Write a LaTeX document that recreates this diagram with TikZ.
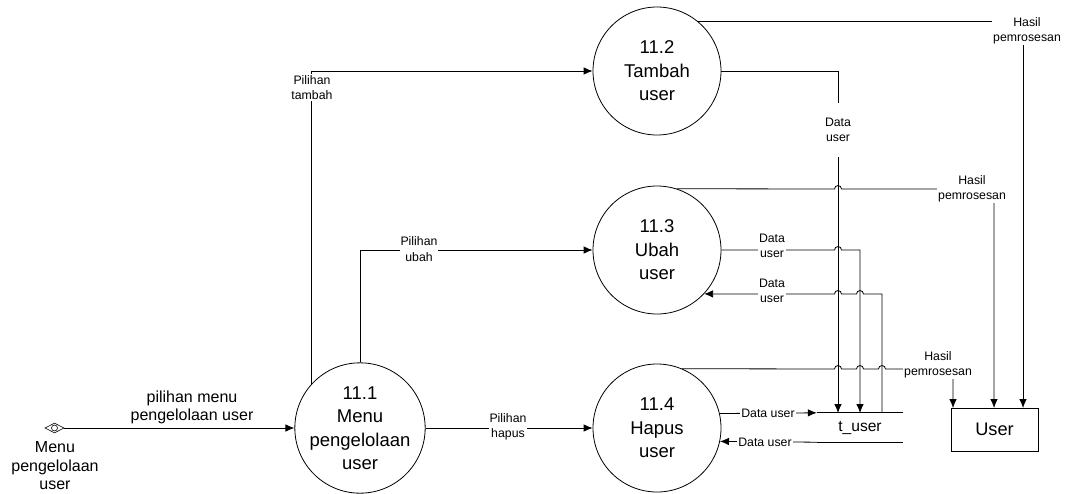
\documentclass[tikz,border=0pt]{standalone}
\usepackage{fontspec}
\setmainfont{Liberation Sans}
\usetikzlibrary{arrows.meta,shapes.geometric}
\begin{document}
\begin{tikzpicture}[x=1pt,y=-1pt,
  proc/.style={circle,draw,line width=0.8pt,minimum size=128pt,inner sep=0pt,align=center,font=\fontsize{18.5}{23.5}\selectfont},
  flow/.style={line width=0.8pt,-{Latex[length=9pt,width=7.5pt]}},
  plain/.style={line width=0.8pt},
  lbl/.style={fill=white,inner sep=1pt,align=center,font=\fontsize{12.3}{15.5}\selectfont},
  mid/.style={align=center,inner sep=0pt,font=\fontsize{16}{18.5}\selectfont}]
\useasboundingbox (0,0) rectangle (1065,493);

% processes
\node[proc] (m) at (360,428) {11.1\\Menu\\pengelolaan\\user};
\node[proc] (t) at (657,71) {11.2\\Tambah\\user};
\node[proc] (u) at (657,250) {11.3\\Ubah\\user};
\node[proc] (h) at (657,428) {11.4\\Hapus\\user};

% terminator
\node[draw,line width=0.8pt,minimum width=87pt,minimum height=43pt,inner sep=0pt,font=\fontsize{18.2}{22}\selectfont] (U) at (994.5,429.5) {User};

% data store
\node[minimum width=86pt,minimum height=29pt,inner sep=0pt,font=\fontsize{15.6}{18}\selectfont] (ds) at (860,427.5) {t\_user};
\draw[plain] (ds.north west) -- (ds.north east);
\draw[plain] (ds.south west) -- (ds.south east);

% external entity symbol
\node[diamond,draw,line width=0.6pt,minimum width=19pt,minimum height=10pt,inner sep=0pt] (e) at (54.5,428) {};
\node[circle,draw,line width=0.6pt,minimum size=6pt,inner sep=0pt] (eye) at (e.center) {};
\node[mid] (elbl) at (55,466) {Menu\\pengelolaan\\user};

% connector end points
\coordinate (d1) at (838,413);
\coordinate (d2) at (860,413);
\coordinate (d3) at (882,413);
\coordinate (U1) at (953,408);
\coordinate (U2) at (994,408);
\coordinate (U3) at (1023,408);

% connectors
\draw[flow] (e.east) -- (m.west);
\draw[flow] (m.138.6) |- (t.west);
\draw[flow] (m.north) |- (u.west);
\draw[flow] (m.east) -- (h.west);
\draw[flow] (t.east) -| (d1);
\draw[flow] (u.east) -- (834.5,250) arc[start angle=180,end angle=0,radius=3.5pt] -| (d2);
\draw[flow] (d3) -- (882,294) -- (863.5,294) arc[start angle=0,end angle=180,radius=3.5pt]
   -- (841.5,294) arc[start angle=0,end angle=180,radius=3.5pt] -- (u.-43.4);
\draw[flow] (h.67.2) -- (834.5,369) arc[start angle=180,end angle=0,radius=3.5pt]
   -- (856.5,369) arc[start angle=180,end angle=0,radius=3.5pt]
   -- (878.5,369) arc[start angle=180,end angle=0,radius=3.5pt] -| (U1);
\draw[flow] (t.51.4) -| (U3);
\draw[flow] (u.72.4) -- (834.5,189) arc[start angle=180,end angle=0,radius=3.5pt] -| (U2);
\draw[flow] (h.13.6) -- (ds.north west);
\draw[flow] (ds.south west) -- (h.-12.6);

% labels
\node[mid] (l0) at (192,407.5) {pilihan menu\\pengelolaan user};
\node[lbl] (l1) at (312,87.5) {Pilihan\\tambah};
\node[lbl] (l2) at (419,249.2) {Pilihan\\ubah};
\node[lbl] (l3) at (508,427) {Pilihan\\hapus};
\node[lbl,inner ysep=15pt] (l4) at (838,130) {Data\\user};
\node[lbl] (l5) at (772,246) {Data\\user};
\node[lbl] (l6) at (772,291) {Data\\user};
\node[lbl] (l7) at (768,413) {Data user};
\node[lbl] (l8) at (765,442) {Data user};
\node[lbl] (l9) at (1027,31) {Hasil\\pemrosesan};
\node[lbl] (l10) at (972,189) {Hasil\\pemrosesan};
\node[lbl] (l11) at (938,365) {Hasil\\pemrosesan};
\end{tikzpicture}
\end{document}
